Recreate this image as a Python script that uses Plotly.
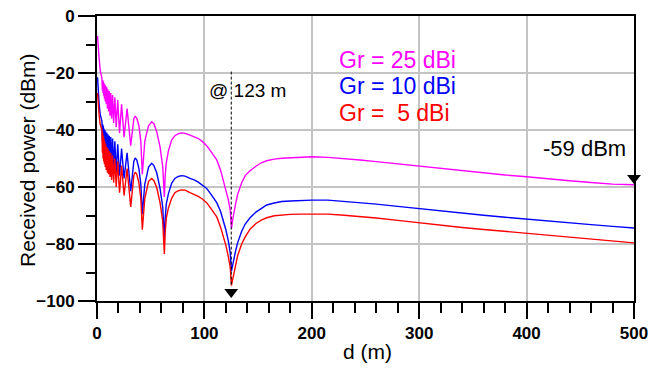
import plotly.graph_objects as go

# ---- data ----
distance_m = [0.5, 1.0, 2.0, 3.0, 4.0,
              4.6, 5.0, 5.3, 5.6, 5.9, 6.2, 6.55, 6.9, 7.3, 7.7, 8.1, 8.6, 9.1, 9.7, 10.2,
              10.8, 11.4, 12.1, 12.8, 13.6, 14.5, 15.5, 16.6, 17.9, 19.3, 21.0, 22.9, 25.2, 28.0, 31.4,
              33.0, 34.3, 35.5, 37.0, 39.0, 40.8, 42.2,
              43.1, 44.5, 46.3, 48.0, 50.9, 53.0, 55.6, 58.7, 61.2, 62.7,
              63.5, 64.5, 66.4, 69.5, 72.5, 75.7, 78.8, 82.0, 86.6, 90.5,
              94.3, 98.0, 102.1, 106.0, 111.5, 115.0, 117.6, 120.0, 122.3, 124.0,
              125.2, 126.3, 127.5, 129.0, 131.0, 134.7, 138.0, 142.5, 148.0, 153.0,
              158.0, 165.0, 172.0, 180.0, 190.0, 200.0, 215.0, 230.0, 245.0, 260.0,
              280.0, 300.0, 320.0, 340.0, 360.0, 380.0, 400.0, 420.0, 440.0, 460.0,
              480.0, 500.0]

p_gr25 = [-7, -11, -15, -19, -21.5,
          -22, -26, -22.5, -27, -23, -28, -23.5, -29, -24, -30, -24.5, -31, -25, -32.5, -25.8,
          -33.5, -26.3, -35, -27, -36, -27.7, -37.5, -28.5, -39, -29.5, -41, -31, -42.5, -32.5, -45.5,
          -39, -36, -35.2, -35.8, -38.5, -44, -55.5,
          -49.4, -44, -41, -38.5, -37.1, -37.8, -40.6, -45.9, -52.9, -63.5,
          -56, -51.5, -47.5, -43.5, -42, -41.3, -41, -41.2, -41.8, -42.3,
          -43, -44, -45.5, -47.5, -50.5, -54, -57.5, -60.5, -64.5, -68,
          -74.5, -71.5, -68.5, -66, -62.5, -58.5, -56, -54.3, -52.7, -51.5,
          -50.8, -50.2, -49.9, -49.7, -49.5, -49.4, -49.6, -50.0, -50.5, -51.1,
          -51.9, -52.8, -53.6, -54.4, -55.1, -55.8, -56.4, -57.2, -57.8, -58.4,
          -59.0, -59.2]

p_gr10 = [-21.5, -27, -31, -34.5, -36.5,
          -37, -44, -38, -46, -38.5, -47, -39.5, -48, -40, -47.5, -40.5, -49, -41, -50, -41.5,
          -51, -42, -52, -42.5, -53, -43, -53.5, -44, -55, -45, -56, -46.5, -57, -48, -61.5,
          -54, -51, -49.8, -50.5, -53.5, -59, -69.5,
          -64, -59, -56, -53, -51.7, -52.5, -55, -60.5, -67, -78,
          -71, -66, -62.5, -58.7, -57, -56.3, -56, -56.2, -57, -57.5,
          -58.3, -59.2, -60.5, -62.5, -65.5, -68.5, -71.5, -75, -79, -83,
          -89.5, -87, -85, -82.5, -79.5, -75.5, -73, -70.8, -68.8, -67.5,
          -66.3, -65.6, -65.1, -64.9, -64.7, -64.6, -64.6, -65.0, -65.4, -66.0,
          -66.8, -67.6, -68.5, -69.2, -69.9, -70.6, -71.3, -71.9, -72.5, -73.2,
          -73.8, -74.4]

p_gr5 = [-27, -31, -35, -38, -40,
         -40, -48, -41, -50, -42, -51, -43, -52, -44, -53, -45, -54, -46, -55, -46.5,
         -55.5, -47.5, -56.5, -48, -57.5, -49, -58.5, -50, -60, -51, -62, -52.5, -63, -53.5, -67,
         -59.5, -56, -54.8, -55.5, -58.5, -64, -75,
         -69, -64, -61, -58, -57, -57.8, -60.2, -65.5, -72, -83.5,
         -76, -71, -67.5, -64, -62, -61.3, -61, -61.1, -62, -62.6,
         -63.3, -64.2, -65.5, -67.5, -70.5, -74, -77, -80.5, -84.5, -88,
         -94.5, -92.5, -90, -87, -84, -80, -77.5, -74.8, -72.8, -71.6,
         -70.8, -70.1, -69.8, -69.6, -69.5, -69.4, -69.5, -69.9, -70.3, -70.9,
         -71.7, -72.6, -73.4, -74.2, -74.9, -75.6, -76.3, -76.9, -77.5, -78.2,
         -78.9, -79.6]

series_names = ["Gr = 25 dBi", "Gr = 10 dBi", "Gr =\u00a0\u00a05 dBi"]
series_colors = ["#FF00FF", "#0000FF", "#FF0000"]

x_ticks = [0, 100, 200, 300, 400, 500]
y_ticks = [0, -20, -40, -60, -80, -100]

null_d = 125.0          # marked null ("@ 123 m")
marker_d = [125.0, 500.0]
marker_p = [-96.8, -56.8]

FONT = "Liberation Sans, Arial, sans-serif"

fig = go.Figure()
for vals, name, col in zip([p_gr25, p_gr10, p_gr5], series_names, series_colors):
    fig.add_trace(go.Scatter(x=distance_m, y=vals, mode="lines", name=name,
                             line=dict(color=col, width=1.4), showlegend=False))

fig.add_trace(go.Scatter(x=marker_d, y=marker_p, mode="markers",
                         marker=dict(symbol="triangle-down", size=12, color="black"),
                         cliponaxis=False, showlegend=False))

fig.add_shape(type="line", x0=null_d, x1=null_d, y0=-19.5, y1=-95,
              line=dict(color="black", width=1, dash="3px,2px"))

# series labels
label_y = [-15.4, -24.6, -34.0]
for name, col, yy in zip(series_names, series_colors, label_y):
    fig.add_annotation(x=223, y=yy, text=name, showarrow=False, xanchor="left",
                       yanchor="middle", font=dict(family=FONT, size=23, color=col))

fig.add_annotation(x=102, y=-26, text="@ 123 m", showarrow=False, xanchor="left",
                   yanchor="middle", font=dict(family=FONT, size=19, color="black"))
fig.add_annotation(x=494, y=-46.5, text="-59 dBm", showarrow=False, xanchor="right",
                   yanchor="middle", font=dict(family=FONT, size=22, color="black"))

# axis titles
fig.add_annotation(xref="paper", yref="paper", x=(27 - 97) / 537, y=(301 - 160) / 285,
                   text="Received power (dBm)", textangle=-90, showarrow=False,
                   xanchor="center", yanchor="middle",
                   font=dict(family=FONT, size=21, color="black"))
fig.add_annotation(xref="paper", yref="paper", x=(367 - 97) / 537, y=(301 - 351) / 285,
                   text="d (m)", showarrow=False, xanchor="center", yanchor="middle",
                   font=dict(family=FONT, size=21, color="black"))

axis_common = dict(showline=True, linecolor="black", linewidth=2, mirror=True,
                   showgrid=True, gridcolor="#c4c4c4", gridwidth=1.5, zeroline=False,
                   automargin=False, ticklabeloverflow="allow",
                   ticks="outside", tickcolor="black", tickwidth=1.5,
                   tickfont=dict(family=FONT, size=17, color="black", weight="bold"))

fig.update_xaxes(range=[0, 500], tickvals=x_ticks, ticklen=16,
                 minor=dict(dtick=20, ticks="outside", ticklen=10, tickwidth=1.5,
                            tickcolor="black", showgrid=False),
                 **axis_common)
fig.update_yaxes(range=[-100, 0], tickvals=y_ticks, ticklen=17,
                 minor=dict(dtick=10, ticks="outside", ticklen=9, tickwidth=1.5,
                            tickcolor="black", showgrid=False),
                 **axis_common)

# page body has an 8px margin, so the figure is sized to fit the 664x373 window
fig.update_layout(width=656, height=365, autosize=False,
                  margin=dict(l=89, r=30, t=8, b=72),
                  plot_bgcolor="white", paper_bgcolor="white",
                  font=dict(family=FONT, color="black"))

fig.write_html("out.html")
